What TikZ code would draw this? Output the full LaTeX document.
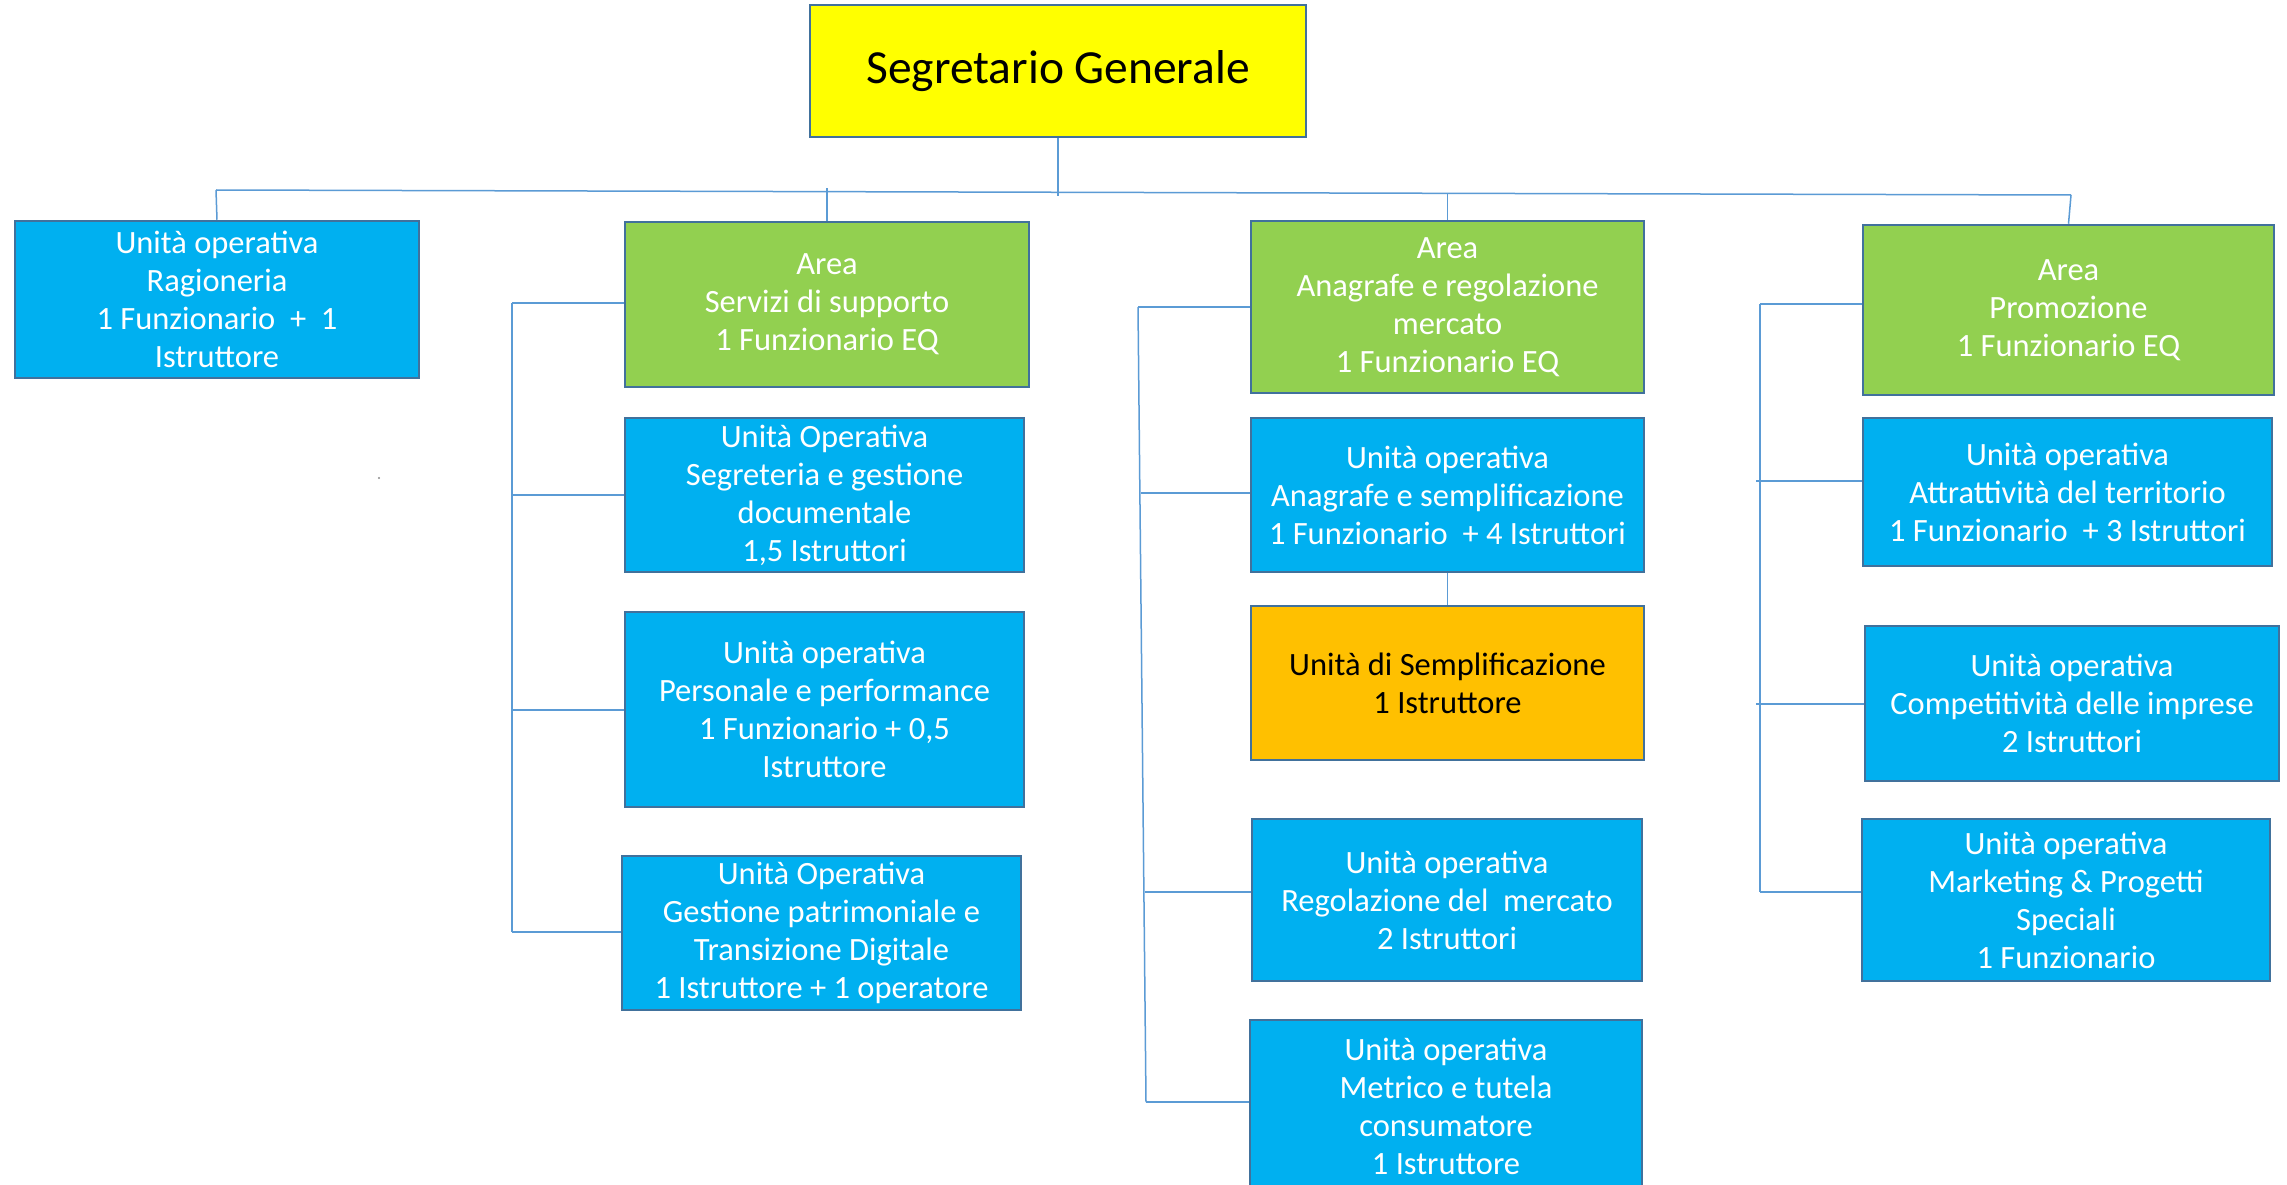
\documentclass[tikz,border=0pt]{standalone}
\usepackage{fontspec}
\setmainfont{Carlito}
\usetikzlibrary{calc}
\definecolor{boxblue}{HTML}{00B0F0}
\definecolor{boxgreen}{HTML}{92D050}
\definecolor{boxyellow}{HTML}{FFFF00}
\definecolor{boxorange}{HTML}{FFC000}
\definecolor{boxedge}{HTML}{41719C}
\definecolor{linkblue}{HTML}{5B9BD5}
\tikzset{
  box/.style={draw=boxedge, line width=2.5pt, inner sep=0pt, align=center, text=white, font=\fontsize{32.5}{38}\selectfont},
  bluebox/.style={box, fill=boxblue},
  greenbox/.style={box, fill=boxgreen},
  yellowbox/.style={box, fill=boxyellow, text=black, font=\fontsize{47.5}{56}\selectfont},
  orangebox/.style={box, fill=boxorange, text=black},
  conn/.style={draw=linkblue, line width=1.5pt},
}
\begin{document}
\begin{tikzpicture}[x=1pt,y=-1pt]
\clip (0,0) rectangle (2287,1185);
\fill[white] (0,0) rectangle (2287,1185);

% top
\node[yellowbox, minimum width=496pt, minimum height=132pt] (seg) at (1058,71) {Segretario Generale};

% level 1
\node[bluebox, minimum width=404pt, minimum height=157pt] (rag) at (217,299.5) {Unità operativa\\Ragioneria\\1 Funzionario~ +~ 1\\Istruttore};
\node[greenbox, minimum width=404pt, minimum height=165pt] (serv) at (827,304.5) {Area\\Servizi di supporto\\1 Funzionario EQ};
\node[greenbox, minimum width=393pt, minimum height=172pt] (ana) at (1447.5,307) {Area\\Anagrafe e regolazione\\mercato\\1 Funzionario EQ};
\node[greenbox, minimum width=411pt, minimum height=170pt] (pro) at (2068.5,310) {Area\\Promozione\\1 Funzionario EQ};

% servizi column
\node[bluebox, minimum width=399pt, minimum height=154pt] (segr) at (824.5,495) {Unità Operativa\\Segreteria e gestione\\documentale\\1,5 Istruttori};
\node[bluebox, minimum width=399pt, minimum height=195pt] (pers) at (824.5,709.5) {Unità operativa\\Personale e performance\\1 Funzionario + 0,5\\Istruttore};
\node[bluebox, minimum width=399pt, minimum height=154pt] (gest) at (821.5,933) {Unità Operativa\\Gestione patrimoniale e\\Transizione Digitale\\1 Istruttore + 1 operatore};

% anagrafe column
\node[bluebox, minimum width=393pt, minimum height=154pt] (anasem) at (1447.5,495) {Unità operativa\\Anagrafe e semplificazione\\1 Funzionario~ + 4 Istruttori};
\node[orangebox, minimum width=393pt, minimum height=154pt] (unisem) at (1447.5,683) {Unità di Semplificazione\\1 Istruttore};
\node[bluebox, minimum width=390pt, minimum height=162pt] (reg) at (1447,900) {Unità operativa\\Regolazione del~ mercato\\2 Istruttori};
\node[bluebox, minimum width=392pt, minimum height=172pt] (met) at (1446,1106) {Unità operativa\\Metrico e tutela\\consumatore\\1 Istruttore};

% promozione column
\node[bluebox, minimum width=409pt, minimum height=148pt] (attr) at (2067.5,492) {Unità operativa\\Attrattività del territorio\\1 Funzionario~ + 3 Istruttori};
\node[bluebox, minimum width=414pt, minimum height=155pt] (comp) at (2072,703.5) {Unità operativa\\Competitività delle imprese\\2 Istruttori};
\node[bluebox, minimum width=408pt, minimum height=162pt] (mark) at (2066,900) {Unità operativa\\Marketing \& Progetti\\Speciali\\1 Funzionario};

% top bus
\coordinate (busL) at (216,190);
\coordinate (busR) at (2071,195);
\coordinate (segb) at (1058,196);
\draw[conn] (busL) -- (busR);
\draw[conn] (seg.south) -- (segb);
\draw[conn] (busL) -- (rag.north);
\draw[conn] (serv.north) -- ++(0,-33);
\draw[conn] (ana.north) -- ++(0,-27);
\draw[conn] (busR) -- (pro.north);

% servizi spine
\coordinate (sT) at (512,303);
\coordinate (sB) at (512,932);
\draw[conn] (sT) -- (sB);
\draw[conn] (sT) -- (sT -| serv.west);
\draw[conn] (512,495) coordinate (s2) -- (s2 -| segr.west);
\draw[conn] (512,710) coordinate (s3) -- (s3 -| pers.west);
\draw[conn] (sB) -- (sB -| gest.west);

% anagrafe spine
\coordinate (aT) at (1138,307);
\coordinate (aB) at (1146,1102);
\draw[conn] (aT) -- (aB);
\draw[conn] (aT) -- (aT -| ana.west);
\draw[conn] (1141,493) coordinate (a2) -- (a2 -| anasem.west);
\draw[conn] (1145,892) coordinate (a3) -- (a3 -| reg.west);
\draw[conn] (aB) -- (aB -| met.west);
\draw[conn] (anasem.south) -- (unisem.north);

% promozione spine
\coordinate (pT) at (1760,304);
\coordinate (pB) at (1760,892);
\draw[conn] (pT) -- (pB);
\draw[conn] (pT) -- (pT -| pro.west);
\draw[conn] (1756,481) coordinate (p2) -- (p2 -| attr.west);
\draw[conn] (1756,704) coordinate (p3) -- (p3 -| comp.west);
\draw[conn] (pB) -- (pB -| mark.west);

% stray mark
\fill[black!45] (379,478) circle (1.2pt);
\end{tikzpicture}
\end{document}
